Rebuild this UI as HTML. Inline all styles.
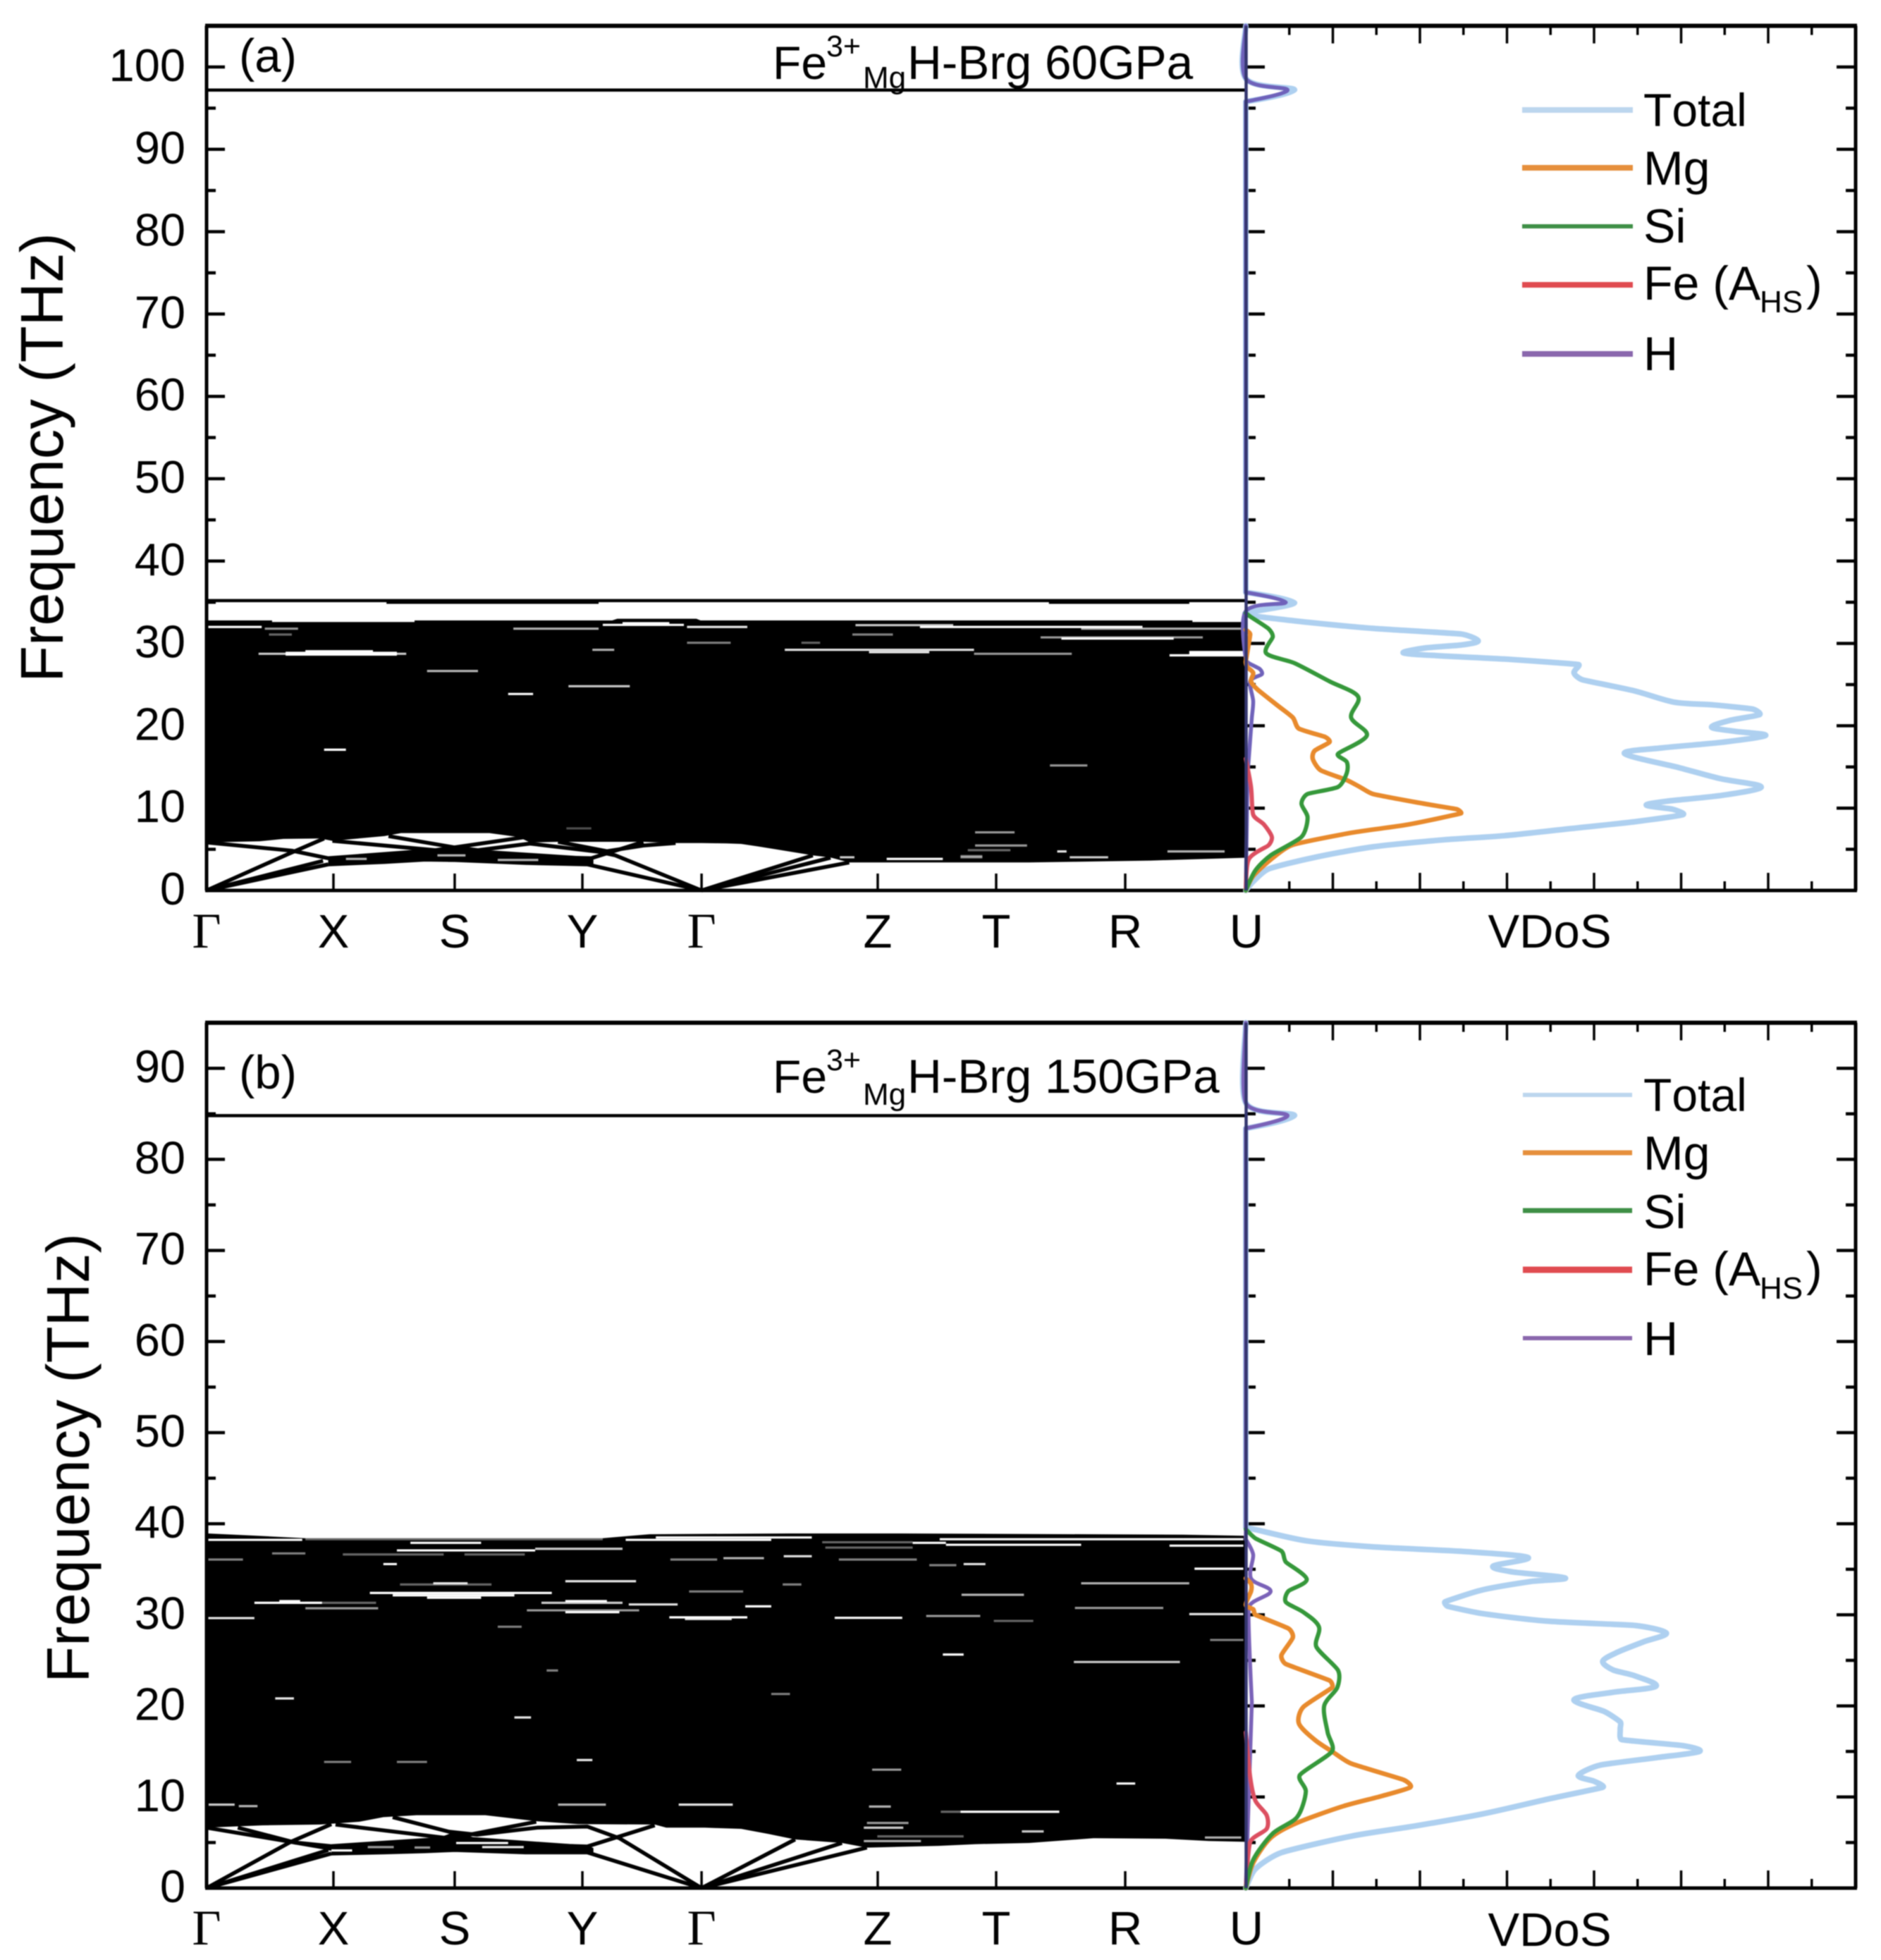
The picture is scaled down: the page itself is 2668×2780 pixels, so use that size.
<!DOCTYPE html>
<html lang="en">
<head>
<meta charset="utf-8">
<title>Phonon dispersion and VDoS of Fe3+MgH-Brg at 60 and 150 GPa</title>
<style>
html,body{margin:0;padding:0;background:#fff;}
svg{display:block;filter:blur(0.8px);}
text{font-family:"Liberation Sans",sans-serif;font-size:64px;fill:#000;}
.lg{font-size:68px;}
.lgt{font-size:66px;font-kerning:none;}
</style>
</head>
<body>
<svg id="chart" xmlns="http://www.w3.org/2000/svg" width="2668" height="2780" viewBox="0 0 2668 2780">
  <rect width="2668" height="2780" fill="#ffffff"/>
  <g id="panelA"></g>
  <g id="panelB"></g>

  <text x="339" y="102" style="font-size:67px">(a)</text>
  <text x="1096" y="112" style="font-size:66px">Fe<tspan x="1172" y="80" style="font-size:43px">3+</tspan><tspan x="1224" y="125" style="font-size:44px">Mg</tspan><tspan x="1287" y="112" style="font-size:67.5px">H-Brg 60GPa</tspan></text>
  <text transform="translate(89 649) rotate(-90)" text-anchor="middle" style="font-size:85px">Frequency (THz)</text>
  <text x="2198" y="1344" text-anchor="middle" style="font-size:67px">VDoS</text>
  <g>
    <line x1="2159" x2="2316" y1="156" y2="156" stroke="#bcd6ee" stroke-width="8"/>
    <text class="lgt" x="2331" y="179">Total</text>
    <line x1="2159" x2="2316" y1="238" y2="238" stroke="#e68f3c" stroke-width="8"/>
    <text class="lg" x="2331" y="262">Mg</text>
    <line x1="2159" x2="2316" y1="321" y2="321" stroke="#3f8f46" stroke-width="6"/>
    <text class="lg" x="2331" y="344">Si</text>
    <line x1="2159" x2="2316" y1="404" y2="404" stroke="#e04b50" stroke-width="8"/>
    <text class="lg" x="2331" y="425">Fe (A<tspan x="2496" y="443" style="font-size:44px">HS</tspan><tspan x="2562" y="425">)</tspan></text>
    <line x1="2159" x2="2316" y1="502" y2="502" stroke="#8a67ad" stroke-width="8"/>
    <text class="lg" x="2331" y="525">H</text>
  </g>

  <text x="339" y="1544" style="font-size:67px">(b)</text>
  <text x="1096" y="1550" style="font-size:66px">Fe<tspan x="1172" y="1518" style="font-size:43px">3+</tspan><tspan x="1224" y="1567" style="font-size:44px">Mg</tspan><tspan x="1287" y="1550" style="font-size:67.5px">H-Brg 150GPa</tspan></text>
  <text transform="translate(126 2068) rotate(-90)" text-anchor="middle" style="font-size:85px">Frequency (THz)</text>
  <text x="2198" y="2760" text-anchor="middle" style="font-size:67px">VDoS</text>
  <g>
    <line x1="2160" x2="2315" y1="1553" y2="1553" stroke="#bcd6ee" stroke-width="6"/>
    <text class="lgt" x="2331" y="1576">Total</text>
    <line x1="2160" x2="2315" y1="1635" y2="1635" stroke="#e68f3c" stroke-width="7"/>
    <text class="lg" x="2331" y="1659">Mg</text>
    <line x1="2160" x2="2315" y1="1717" y2="1717" stroke="#3f8f46" stroke-width="7"/>
    <text class="lg" x="2331" y="1742">Si</text>
    <line x1="2160" x2="2315" y1="1801" y2="1801" stroke="#e04b50" stroke-width="9"/>
    <text class="lg" x="2331" y="1823">Fe (A<tspan x="2496" y="1842" style="font-size:44px">HS</tspan><tspan x="2562" y="1823">)</tspan></text>
    <line x1="2160" x2="2315" y1="1898" y2="1898" stroke="#8a67ad" stroke-width="6"/>
    <text class="lg" x="2331" y="1922">H</text>
  </g>
</svg>
<script>
// ---- shared axis data ----
const kTicks=[0,.122,.2386,.3614,.476,.6454,.7593,.8834,1];
const kLabels=['Γ','X','S','Y','Γ','Z','T','R','U'];
const vdosMajorTicks=[1,2,3,4,5,6,7];
const vdosMinorTicks=[.5,1.5,2.5,3.5,4.5,5.5,6.5];
const panelAFreqTicks=[0,10,20,30,40,50,60,70,80,90,100];
const panelAFreqMinor=[5,15,25,35,45,55,65,75,85,95];
const panelBFreqTicks=[0,10,20,30,40,50,60,70,80,90];
const panelBFreqMinor=[5,15,25,35,45,55,65,75,85];

// ---- panel (a) 60 GPa: phonon band data, [k, THz] ----
const panelABandTop=[[0,32.79],[.063,32.79],[.063,32.59],[.2,32.59],[.2,32.79],[.39,32.79],[.395,33],[.471,33],[.475,32.79],[.948,32.79],[.948,32.59],[1,32.59]];
const panelABandLow=[[0,5.83],[.051,5.97],[.074,6.26],[.109,6.31],[.121,6.03],[.171,6.6],[.187,6.97],[.272,6.97],[.3,6.49],[.311,5.83],[.338,5.91],[.42,5.91],[.451,5.76],[.476,5.75],[.5,5.72],[.514,5.65],[.53,5.35],[.549,4.97],[.583,4.26],[.6,4],[.618,3.4],[.791,3.4],[.908,3.63],[.998,3.97],[1,3.97]];
// dense crossing of optic branches between X, S and Y
const panelACrossTop=[[.117,3.91],[.22,4.89],[.239,5.35],[.261,4.97],[.366,4.11],[.372,3.8]];
const panelACrossLow=[[.117,3.17],[.171,3.46],[.21,3.74],[.239,3.69],[.307,3.34],[.366,3.17],[.372,3.2]];
const panelABranches=[
 [[0,0],[.078,4.4],[.113,6.31]],
 [[0,0],[.117,3.17]],
 [[.006,.2],[.112,3.6]],
 [[.117,3.17],[.171,3.46],[.21,3.74],[.239,3.69],[.307,3.34],[.366,3.17],[.476,0]],
 [[0,5.83],[.082,4.83],[.117,3.91],[.22,4.89],[.307,6.49]],
 [[.121,6.03],[.22,4.89],[.261,4.2],[.37,3.91],[.42,5.91]],
 [[.175,6.6],[.237,5.26],[.261,4.89],[.311,5.69],[.377,4.69],[.393,4.26],[.476,0]],
 [[.338,5.91],[.385,4.77],[.42,5.45],[.451,5.76]],
 [[.476,0],[.583,4.26]],
 [[.476,0],[.6,3.97]],
 [[.476,0],[.618,3.4]]
];
const panelAFlat=[[[0,35.2],[1,35.2]],[[.173,35],[.377,35]],[[.81,35],[.945,35]],[[0,97.2],[1,97.2]]];
// white gaps: [kStart, kEnd, THz, intensity]
const panelAGaps=[
 [.001,.053,32,1],[.056,.088,31.79,.6],[.295,.377,31.79,.7],[.381,.459,32.25,1],[.4,.445,32.45,1],[.462,.52,32,.9],
 [.624,.718,32.22,.8],[.686,.9,32,1],[.841,.997,31.79,.7],[.076,.183,28.65,1],[.076,.183,28.85,1],[.095,.16,29.05,1],
 [.05,.192,28.74,.8],[.556,.738,29.22,.9],[.637,.695,28.94,.9],[.738,.832,28.74,.6],[.802,.958,30.73,.6],[.822,.93,30.6,1],
 [.621,.66,31.08,.5],[.462,.504,30.08,.5],[.926,.997,28.55,1],[.945,.997,28.75,1],[.945,.997,28.95,1],[.371,.392,29.22,.7],
 [.212,.261,26.65,.7],[.348,.407,24.8,.8],[.29,.314,23.86,1],[.113,.134,17.09,1],[.811,.847,15.18,.6],[.06,.082,31.08,.4],[.572,.59,30.08,.4],
 [.739,.777,7.06,.6],[.739,.789,5.46,.6],[.732,.773,4.89,.4],[.725,.746,4.17,.5],[.725,.746,4.02,.5],[.83,.867,4.03,.8],[.924,.979,4.74,.7],
 [.654,.708,3.83,1],[.609,.623,4.03,.8],[.818,.827,4.74,.9],[.346,.37,7.54,.3],[.134,.154,3.83,.7],[.222,.249,4.26,.7],[.28,.319,3.7,.7]
];

// ---- panel (a) VDoS: frequency (THz) and density (tick units) ----
const aTotalFreq=[0,1.08,2.6,3.95,5.3,6.15,6.65,7.5,8.35,9.2,9.87,10.37,10.88,11.55,12.57,13.58,14.93,16.62,17.3,18,18.82,19.32,19.83,20.68,21.35,22.03,22.53,22.87,24.22,25.57,26.42,27.43,28.1,28.5,28.85,29.46,29.8,30.3,31.15,31.82,32.57,33.24,33.7,34.97,36.2,95.8,97.2,98.6,105];
const aTotalVdos=[0,.085,.26,.76,1.46,2.27,2.97,3.72,4.47,5.02,4.9,4.6,4.87,5.47,5.92,5.45,4.97,4.35,4.77,5.47,5.97,5.62,5.35,5.57,5.9,5.82,5.37,4.92,4.47,3.87,3.77,3.82,2.97,2.22,1.81,2.07,2.47,2.67,2.47,1.46,.71,.16,0,.56,0,0,.56,0,0];
const aMgFreq=[0,1.76,3.78,5.54,7,8,9.36,9.87,10.7,11.72,12.57,13.4,14.6,15.95,16.96,18,18.65,19.66,21,22.5,24.4,25.4,26.4,27.1,27.8,31.1,31.65];
const aMgVdos=[0,.085,.29,.54,1.21,1.86,2.47,2.42,1.96,1.46,1.31,1.16,.86,.77,.79,.96,.91,.61,.54,.36,.135,.06,.085,.02,0,.05,0];
const aSiFreq=[0,2.43,4.3,6.5,8.85,10.54,11.72,12.57,14.26,15.6,16.6,18.8,21,23.55,25.4,27.6,28.8,30.8,31.8,33.2,33.7];
const aSiVdos=[0,.11,.29,.64,.71,.64,.71,1.06,1.16,1.16,1.06,1.39,1.21,1.29,.96,.56,.235,.31,.26,.06,0];
const aFeFreq=[0,3.78,5.47,6.5,8,9.2,12.57,16];
const aFeVdos=[0,.035,.26,.3,.21,.085,.06,0];
const aHFreq=[0,14,21,23,25.4,26.25,26.9,27.6,28.1,33.9,35,36.2,95.8,97.2,98.6,105];
const aHVdos=[0,.02,.07,.085,.05,.185,.16,.035,0,0,.46,0,0,.48,0,0];

// ---- panel (b) 150 GPa: phonon band data, [k, THz] ----
const panelBBandTop=[[.001,38.93],[.05,38.67],[.095,38.41],[.381,38.41],[.426,38.85],[.562,38.93],[.666,38.93],[.939,38.8],[1,38.67]];
const panelBBandLow=[[0,6.63],[.054,6.89],[.109,6.97],[.12,7.07],[.147,7.28],[.17,7.79],[.202,8],[.268,8],[.318,7.33],[.357,7.02],[.431,6.97],[.442,6.63],[.479,6.63],[.514,6.5],[.54,5.95],[.566,5.34],[.611,4.95],[.635,4.44],[.704,4.64],[.739,4.82],[.791,4.95],[.853,5.47],[.922,5.42],[.964,5.16],[1,5.08]];
const panelBCrossTop=[[.12,4.82],[.225,5.6],[.239,6.19],[.256,5.6],[.366,4.7],[.372,4.4]];
const panelBCrossLow=[[.12,3.79],[.171,3.92],[.21,4.05],[.239,4.18],[.307,3.92],[.366,3.92],[.372,3.9]];
const panelBBranches=[
 [[0,0],[.081,5.08],[.12,7.02]],
 [[0,0],[.12,3.79]],
 [[0,0],[.117,4.18]],
 [[.12,3.79],[.171,3.92],[.21,4.05],[.239,4.18],[.307,3.92],[.366,3.92],[.476,0]],
 [[0,6.63],[.081,5.08],[.12,4.31],[.229,5.34],[.317,7.28]],
 [[.03,6.63],[.085,5],[.12,4.6]],
 [[.124,6.97],[.233,5.47],[.327,4.7],[.366,4.57],[.431,6.89]],
 [[.179,7.79],[.233,6.19],[.26,5.86],[.318,6.63],[.366,6.76],[.397,5.47],[.476,0]],
 [[.476,0],[.566,5.34]],
 [[.476,0],[.611,4.95]],
 [[.476,0],[.635,4.44]]
];
const panelBFlat=[[[0,84.8],[1,84.8]]];
const panelBGaps=[
 [.001,.092,38.23,1],[.095,.381,38.3,.4],[.403,.543,38.23,1],[.432,.582,38.49,1],[.705,.939,38.3,1],[.939,.997,38.3,1],[.196,.264,37.9,1],
 [.183,.316,37.07,1],[.316,.4,37.25,.8],[.679,.711,37.9,1],[.711,.841,37.69,1],[.926,.997,37.59,1],[.592,.679,37.97,.4],[.595,.679,37.38,.4],
 [.063,.095,36.74,.5],[.131,.228,36.63,.4],[.248,.306,36.63,.4],[.001,.035,36.07,.5],[.446,.491,36.07,.5],[.497,.536,36.22,.7],[.608,.683,36.07,.5],
 [.555,.582,36.43,.9],[.17,.183,35.57,1],[.695,.721,35.45,.5],[.728,.749,35.57,.9],[.95,.997,35.06,1],[.345,.413,33.69,.9],[.841,.945,33.46,.7],
 [.186,.274,33.33,.4],[.218,.251,33.46,.9],[.464,.516,32.56,.5],[.726,.786,32.2,.7],[.554,.572,33.33,.5],[.157,.332,32.4,1],[.179,.296,32.14,1],
 [.212,.264,31.88,1],[.046,.111,31.32,1],[.07,.09,31.5,1],[.095,.163,31.32,.4],[.095,.165,30.72,.6],[.322,.4,31.32,.8],[.345,.385,31.5,1],
 [.406,.453,31.14,.9],[.308,.416,30.49,.6],[.345,.397,30.29,1],[.518,.543,30.93,1],[.835,.92,30.75,.6],[.445,.52,29.72,1],[.46,.505,29.55,.9],
 [.604,.669,29.67,1],[.692,.744,29.87,.6],[.001,.046,29.64,.9],[.757,.795,29.33,.4],[.945,.997,30.08,.9],[.28,.303,28.69,.5],[.708,.728,25.64,1],
 [.834,.936,24.82,.8],[.965,.997,27.24,.5],[.327,.338,23.89,.5],[.066,.084,20.82,.9],[.543,.561,21.31,.5],[.296,.312,18.73,.9],[.113,.139,13.85,.5],
 [.183,.212,13.85,.5],[.356,.371,14.06,.9],[.002,.027,9.16,.8],[.031,.049,9,.7],[.338,.384,9.16,.7],[.454,.506,9.16,.9],[.64,.668,13,.6],
 [.875,.893,11.48,1],[.637,.658,8.95,.7],[.725,.82,8.38,1],[.706,.725,8.38,.4],[.635,.675,7.15,.6],[.632,.67,6.63,.8],[.645,.728,5.68,.4],
 [.632,.687,5.16,.7],[.784,.805,6.22,.8],[.96,.995,5.55,.7],
 [.24,.29,4.95,1],[.265,.305,4.5,.9],[.12,.14,4.13,1],[.155,.18,4.5,.6],[.2,.215,4.45,.6]
];

// ---- panel (b) VDoS ----
const bTotalFreq=[0,2.1,3.9,5.7,6.84,8.14,9.77,11.07,11.73,12.38,13.5,14.33,15,15.64,16.29,17.43,18.24,19.38,20.68,21.5,22.15,23.3,23.94,24.9,25.9,27.04,28,28.83,29.3,30.13,30.94,31.43,32.74,33.65,34.04,34.7,35.34,36.3,36.97,37.46,38.1,39.25,39.6,83.4,84.8,86.2,95];
const bTotalVdos=[0,.11,.41,1.21,1.96,2.72,3.47,4.1,4,3.82,4.07,4.72,5.21,5.02,4.32,4.3,4.3,4.12,3.77,4.22,4.71,4.47,4.22,4.1,4.27,4.57,4.83,4.47,3.47,2.72,2.32,2.29,2.72,3.27,3.67,3.07,2.84,3.24,2.47,1.46,.71,.16,0,0,.56,0,0];
const bMgFreq=[0,2.77,5.54,7.17,8.96,10.1,11.07,11.9,13.68,15,16.29,18.08,19.87,22,22.8,24.6,25.57,27.5,28.5,30,30.6,31.1,32.57,33.4,34];
const bMgVdos=[0,.085,.29,.59,1.11,1.56,1.89,1.81,1.21,.99,.79,.61,.66,.99,.96,.46,.41,.54,.49,.11,.085,0,.06,.06,0];
const bSiFreq=[0,3.1,6,7.8,10.6,12.4,15,17.1,20,22,23.9,26.5,28.7,30.3,31.4,32.6,33.9,35.8,37,38.4,39.4];
const bSiVdos=[0,.085,.31,.59,.69,.62,.99,.94,.9,1.05,1.06,.81,.84,.66,.46,.49,.7,.46,.41,.11,0];
const bFeFreq=[0,5.05,6.5,8,9.6,12.2,17.1];
const bFeVdos=[0,.05,.24,.24,.11,.05,0];
const bHFreq=[0,20.4,30.8,32.57,34,36.6,38.3,83.4,84.8,86.2,95];
const bHVdos=[0,.07,.035,.286,.06,.085,0,0,.48,0,0];

// ---- axis functions ----
const SVGNS='http://www.w3.org/2000/svg';
const xK=k=>293+k*1475;
const xV=v=>1767+v*123.5;
const yA=f=>1263-f*11.68;
const yB=f=>2678-f*12.92;

function svgEl(tag,parent,attrs){
  const el=document.createElementNS(SVGNS,tag);
  for(const a in attrs) el.setAttribute(a,attrs[a]);
  parent.appendChild(el);
  return el;
}
function pairsToPath(pairs,y){
  return pairs.map((p,i)=>(i?'L':'M')+xK(p[0]).toFixed(1)+' '+y(p[1]).toFixed(1)).join('');
}
function polygonPath(upper,lower,y){
  return pairsToPath(upper,y)+lower.slice().reverse().map(p=>'L'+xK(p[0]).toFixed(1)+' '+y(p[1]).toFixed(1)).join('')+'Z';
}
function smoothPath(pts){
  const hyp=(a,b)=>Math.hypot(a[0]-b[0],a[1]-b[1]);
  const tan=i=>{
    const a=pts[Math.max(0,i-1)], b=pts[Math.min(pts.length-1,i+1)];
    const prevLen=i>0?hyp(pts[i],pts[i-1]):0, nextLen=i<pts.length-1?hyp(pts[i],pts[i+1]):0;
    // no curvature at the ends of long empty stretches along the zero line
    if(prevLen>150||nextLen>150) return [0,0];
    let tx=(b[0]-a[0])/6, ty=(b[1]-a[1])/6;
    const reach=.3*Math.min(i>0?prevLen:1e9,i<pts.length-1?nextLen:1e9);
    const m=Math.hypot(tx,ty)||1;
    if(m>reach){tx*=reach/m;ty*=reach/m;}
    return [tx,ty];
  };
  let d='M'+pts[0][0].toFixed(1)+' '+pts[0][1].toFixed(1);
  for(let i=0;i<pts.length-1;i++){
    const t0=tan(i), t1=tan(i+1);
    d+='C'+(pts[i][0]+t0[0]).toFixed(1)+' '+(pts[i][1]+t0[1]).toFixed(1)+' '+(pts[i+1][0]-t1[0]).toFixed(1)+' '+(pts[i+1][1]-t1[1]).toFixed(1)+' '+pts[i+1][0].toFixed(1)+' '+pts[i+1][1].toFixed(1);
  }
  return d;
}
function tickLine(parent,x1,y1,x2,y2,w,name){
  const el=svgEl('line',parent,{x1:x1,y1:y1,x2:x2,y2:y2,stroke:'#000','stroke-width':w});
  
  
  return el;
}

function drawPanel(id,suffix,y,maxF,labelBase,majors,minors,top,low,crossTop,crossLow,branches,flats,gaps,curves){
  const g=document.getElementById(id);
  const yTop=y(maxF), yBot=y(0);

  // band block
  const band=svgEl('path',g,{d:polygonPath(top,low,y),fill:'#000'});
  
  
  const cross=svgEl('path',g,{d:polygonPath(crossTop,crossLow,y),fill:'#000'});
  
  

  // individual branches
  branches.forEach(b=>{
    const p=svgEl('path',g,{d:pairsToPath(b,y),fill:'none',stroke:'#000','stroke-width':5.5,'stroke-linejoin':'round'});
    
    
  });
  flats.forEach(b=>{
    const p=svgEl('path',g,{d:pairsToPath(b,y),fill:'none',stroke:'#000','stroke-width':4.5});
    
    
  });

  // gaps between modes
  gaps.forEach(c=>{
    const l=svgEl('line',g,{x1:xK(c[0]),x2:xK(c[1]),y1:y(c[2]),y2:y(c[2]),stroke:'#fff','stroke-width':3.2,'stroke-opacity':c[3]});
    
    
  });

  // frame
  tickLine(g,291,yTop,2634,yTop,6,'frame-top-'+suffix);
  tickLine(g,291,yBot,2634,yBot,5,'frame-bottom-'+suffix);
  tickLine(g,293,yTop,293,yBot,5,'frame-left-'+suffix);
  tickLine(g,2632,yTop,2632,yBot,5,'frame-right-'+suffix);

  // k ticks and labels
  kTicks.forEach((k,i)=>{
    if(i>0&&i<kTicks.length-1) tickLine(g,xK(k),yBot,xK(k),yBot-24,3.5,'k-tick-'+kLabels[i]+'-'+suffix);
    const t=svgEl('text',g,{x:xK(k),y:labelBase,'text-anchor':'middle'});
    t.textContent=kLabels[i];
    if(kLabels[i]==='Γ') t.setAttribute('style','font-family:"Liberation Serif",serif;font-size:71px');
    else t.setAttribute('style','font-size:67px');
    
    
  });

  // frequency ticks and labels
  majors.forEach(f=>{
    tickLine(g,293,y(f),319,y(f),4.5,'freq-tick-'+f+'-'+suffix);
    tickLine(g,1768,y(f),1794,y(f),4.5,'freq-tick-mid-'+f+'-'+suffix);
    tickLine(g,2632,y(f),2605,y(f),4.5,'freq-tick-right-'+f+'-'+suffix);
    const t=svgEl('text',g,{x:263,y:y(f)+20,'text-anchor':'end'});
    t.textContent=String(f);
    t.setAttribute('style','font-size:65px');
    
    
  });
  minors.forEach(f=>{
    tickLine(g,293,y(f),306,y(f),4.5,'freq-minor-tick-'+f+'-'+suffix);
    tickLine(g,1768,y(f),1781,y(f),4.5,'freq-minor-tick-mid-'+f+'-'+suffix);
    tickLine(g,2632,y(f),2618,y(f),4.5,'freq-minor-tick-right-'+f+'-'+suffix);
  });

  // VDoS ticks
  vdosMajorTicks.forEach(v=>{
    if(v<7){
      tickLine(g,xV(v),yBot,xV(v),yBot-25,3.5,'vdos-tick-bottom-'+v+'-'+suffix);
      tickLine(g,xV(v),yTop,xV(v),yTop+25,3.5,'vdos-tick-top-'+v+'-'+suffix);
    }
  });
  vdosMinorTicks.forEach(v=>{
    tickLine(g,xV(v),yBot,xV(v),yBot-13,3.5,'vdos-minor-bottom-'+v+'-'+suffix);
    tickLine(g,xV(v),yTop,xV(v),yTop+13,3.5,'vdos-minor-top-'+v+'-'+suffix);
  });

  // VDoS curves
  curves.forEach(c=>{
    const pts=c.freq.map((f,i)=>[xV(c.vdos[i]),y(f)]);
    const p=svgEl('path',g,{d:smoothPath(pts),fill:'none',stroke:c.color,'stroke-width':c.width,'stroke-linejoin':'round','stroke-linecap':'round'});
    
    
  });

  // divider on top of the curves (zero line of the density plot)
  const divider=svgEl('line',g,{x1:1767.5,y1:yTop,x2:1767.5,y2:yBot,stroke:'#34366f','stroke-width':4.5});
  
  
}

drawPanel('panelA','a',yA,105,1344,panelAFreqTicks,panelAFreqMinor,panelABandTop,panelABandLow,panelACrossTop,panelACrossLow,panelABranches,panelAFlat,panelAGaps,[
  {key:'total',freq:aTotalFreq,vdos:aTotalVdos,color:'#aed0f0',width:8},
  {key:'h',freq:aHFreq,vdos:aHVdos,color:'#6f62ba',width:5.5},
  {key:'fe',freq:aFeFreq,vdos:aFeVdos,color:'#dc4f60',width:6},
  {key:'mg',freq:aMgFreq,vdos:aMgVdos,color:'#e88a2c',width:6.5},
  {key:'si',freq:aSiFreq,vdos:aSiVdos,color:'#35983a',width:6}
]);
drawPanel('panelB','b',yB,95,2758,panelBFreqTicks,panelBFreqMinor,panelBBandTop,panelBBandLow,panelBCrossTop,panelBCrossLow,panelBBranches,panelBFlat,panelBGaps,[
  {key:'total',freq:bTotalFreq,vdos:bTotalVdos,color:'#aed0f0',width:8},
  {key:'h',freq:bHFreq,vdos:bHVdos,color:'#7a62b8',width:5.5},
  {key:'fe',freq:bFeFreq,vdos:bFeVdos,color:'#dc4f60',width:6},
  {key:'mg',freq:bMgFreq,vdos:bMgVdos,color:'#e88a2c',width:6.5},
  {key:'si',freq:bSiFreq,vdos:bSiVdos,color:'#35983a',width:6}
]);
</script>
</body>
</html>
